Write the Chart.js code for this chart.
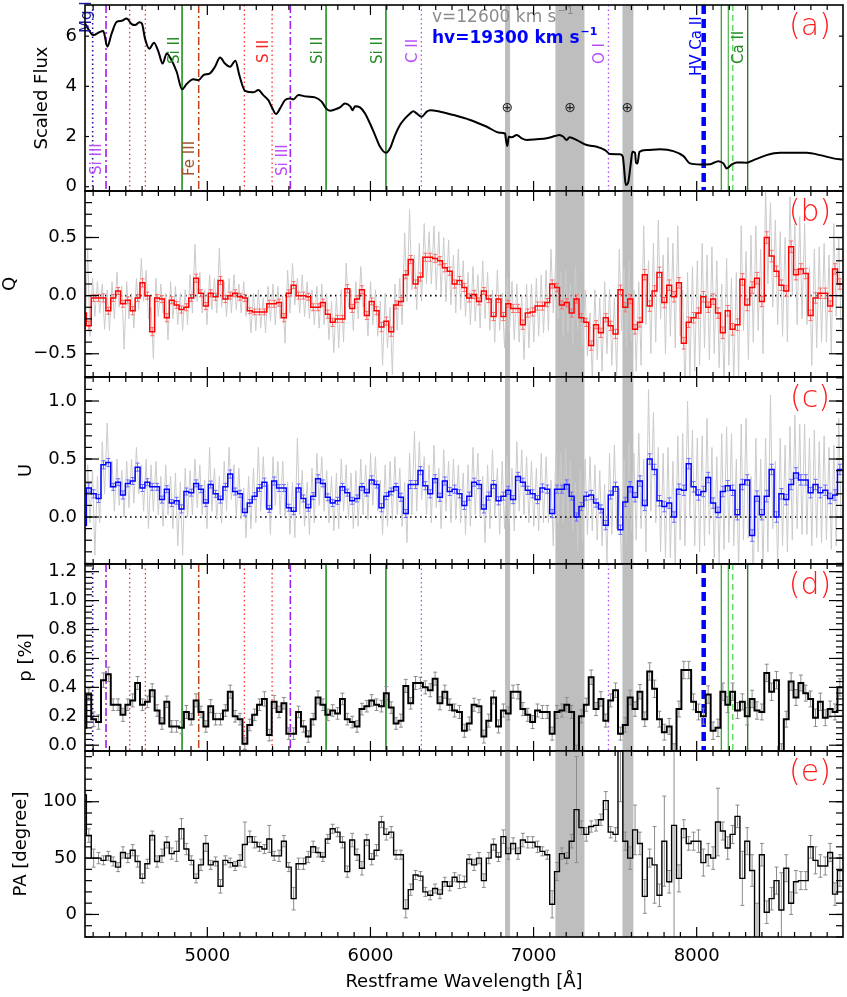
<!DOCTYPE html>
<html><head><meta charset="utf-8">
<script src="https://cdn.jsdelivr.net/npm/chart.js@4.4.0/dist/chart.umd.min.js"></script>
<style>
html,body{margin:0;padding:0;background:#fff;}
#wrap{position:relative;width:847px;height:997px;overflow:hidden;background:#fff;}
canvas{position:absolute;left:0;}
</style></head><body><div id="wrap">
<canvas id="ca" width="847" height="194" style="top:0px"></canvas>
<canvas id="cb" width="847" height="192" style="top:188px"></canvas>
<canvas id="cc" width="847" height="193" style="top:374px"></canvas>
<canvas id="cd" width="847" height="193" style="top:561px"></canvas>
<canvas id="ce" width="847" height="249" style="top:748px"></canvas>
</div>
<script>
// ---------------- DATA ----------------
const binStart = 4228.5;   // left edge of first (partial) bin, Angstrom
const binWidth = 29.9;     // bin width, Angstrom

const fluxWave = [4250,4256,4301,4342,4362,4387,4413,4444,4475,4505,4536,4557,4583,4599,4618,4644,4673,4700,4726,4751,4775,4812,4845,4873,4914,4947,4976,5016,5047,5078,5108,5139,5172,5196,5231,5282,5313,5343,5374,5394,5421,5446,5476,5507,5527,5558,5609,5660,5701,5728,5752,5783,5813,5844,5875,5891,5905,5936,5967,5997,6028,6059,6095,6120,6151,6181,6212,6243,6263,6283,6314,6345,6365,6427,6508,6611,6713,6794,6825,6831,6839,6848,6866,6897,6927,6958,7019,7081,7132,7158,7183,7203,7220,7265,7326,7387,7438,7469,7530,7547,7555,7565,7581,7596,7606,7622,7628,7637,7649,7694,7775,7857,7919,7959,8021,8082,8133,8164,8184,8215,8245,8307,8348,8429,8511,8593,8675,8756,8838,8897];
const fluxVal = [6.50,6.44,6.04,6.17,6.20,5.58,6.10,6.57,6.61,6.70,6.48,6.44,6.55,6.50,5.90,5.50,5.74,5.38,4.91,5.31,5.11,4.58,3.88,4.09,4.28,4.25,4.45,4.52,4.78,5.15,4.91,4.78,5.02,4.45,3.82,3.76,3.85,3.65,3.45,3.19,2.90,3.12,3.45,3.52,3.48,3.65,3.59,3.56,3.39,3.12,3.03,3.08,3.16,3.32,3.21,3.05,3.21,3.16,2.92,2.52,2.06,1.59,1.35,1.53,2.06,2.46,2.72,2.92,3.01,2.92,2.79,2.99,3.05,2.99,2.86,2.66,2.39,2.15,2.12,1.86,1.62,1.99,1.97,2.06,1.93,1.86,1.89,1.93,2.02,2.06,1.99,1.86,1.97,1.86,1.66,1.59,1.46,1.30,1.29,1.20,0.73,0.07,0.20,0.93,1.39,1.35,0.96,0.93,1.39,1.46,1.49,1.42,1.22,0.93,0.89,0.90,1.02,0.93,0.73,0.89,0.97,0.96,1.06,1.26,1.35,1.35,1.35,1.26,1.13,1.08];

const Qbin = [-0.15,
-0.26,-0.02,-0.02,-0.02,-0.13,-0.02,0.04,-0.07,-0.04,-0.13,
-0.02,0.11,0.00,-0.31,-0.02,-0.03,-0.19,-0.04,-0.08,-0.12,
-0.10,-0.02,0.15,0.02,-0.09,0.02,-0.01,0.13,-0.03,0.00,
0.02,-0.01,-0.02,-0.13,-0.14,-0.14,-0.14,-0.07,-0.07,-0.06,
-0.19,0.02,0.09,0.00,0.00,-0.01,-0.10,-0.10,-0.06,-0.16,
-0.23,-0.20,-0.20,0.06,-0.11,-0.03,0.05,-0.17,-0.05,-0.13,
-0.27,-0.22,-0.31,-0.08,-0.05,0.18,0.31,0.10,0.16,0.33,
0.33,0.32,0.30,0.24,0.21,0.10,0.13,0.07,-0.02,0.01,
-0.05,0.04,-0.03,-0.18,-0.03,-0.18,-0.07,-0.11,-0.11,-0.25,
-0.15,-0.14,-0.09,-0.09,-0.06,0.10,0.07,-0.08,-0.06,-0.15,
-0.03,-0.19,-0.23,-0.43,-0.25,-0.32,-0.19,-0.26,-0.33,0.05,
-0.10,-0.03,-0.29,-0.23,0.18,-0.09,0.04,0.20,-0.06,0.09,
-0.01,0.11,-0.41,-0.23,-0.19,-0.15,-0.01,-0.10,-0.03,-0.15,
-0.32,-0.13,-0.29,-0.25,0.14,-0.08,0.07,0.15,-0.05,0.50,
0.34,0.21,0.09,0.04,0.42,0.18,0.23,0.19,-0.17,-0.02,
0.02,0.02,-0.09,0.23,0.10];
const Qerr = [0.04,
0.04,0.03,0.03,0.035,0.03,0.03,0.03,0.03,0.03,0.035,
0.03,0.035,0.03,0.035,0.03,0.03,0.035,0.03,0.03,0.03,
0.03,0.03,0.035,0.03,0.03,0.03,0.03,0.035,0.03,0.03,
0.03,0.03,0.03,0.025,0.025,0.025,0.025,0.03,0.03,0.03,
0.035,0.03,0.03,0.03,0.03,0.03,0.03,0.03,0.03,0.035,
0.035,0.03,0.03,0.035,0.035,0.03,0.035,0.035,0.03,0.035,
0.04,0.035,0.04,0.035,0.035,0.035,0.035,0.035,0.035,0.035,
0.035,0.035,0.035,0.035,0.035,0.035,0.035,0.035,0.035,0.035,
0.03,0.03,0.03,0.035,0.03,0.035,0.03,0.035,0.035,0.04,
0.035,0.035,0.035,0.035,0.035,0.035,0.035,0.035,0.035,0.035,
0.035,0.035,0.035,0.04,0.035,0.04,0.035,0.04,0.04,0.04,
0.04,0.04,0.04,0.04,0.045,0.045,0.045,0.045,0.045,0.045,
0.045,0.045,0.05,0.045,0.045,0.045,0.045,0.045,0.045,0.045,
0.05,0.045,0.05,0.05,0.05,0.05,0.05,0.05,0.045,0.05,
0.05,0.045,0.045,0.045,0.05,0.045,0.045,0.045,0.045,0.045,
0.045,0.045,0.045,0.045,0.045];
// unbinned Q (two samples per bin)
const Qraw = [0.00,-0.35, 0.40,-0.35, 0.15,-0.18, 0.12,-0.15, 0.10,-0.29,
0.05,-0.30, 0.12,-0.20, 0.20,-0.10, 0.08,-0.46, 0.12,-0.20,
0.02,-0.28, 0.15,-0.12, 0.32,-0.05, 0.22,-0.20, -0.10,-0.54,
0.15,-0.18, 0.10,-0.15, 0.02,-0.38, 0.12,-0.20, 0.08,-0.25,
0.02,-0.30, 0.05,-0.25, 0.18,-0.15, 0.44,-0.05, 0.20,-0.15,
0.05,-0.25, 0.18,-0.12, 0.15,-0.15, 0.41,-0.10, 0.12,-0.18,
0.15,-0.15, 0.18,-0.12, 0.10,-0.15, 0.12,-0.18, 0.00,-0.32,
0.02,-0.30, 0.05,-0.28, -0.02,-0.32, 0.08,-0.22, 0.10,-0.25,
0.08,-0.20, 0.00,-0.41, 0.22,-0.15, 0.28,-0.08, 0.15,-0.15,
0.18,-0.18, 0.12,-0.20, 0.05,-0.25, 0.08,-0.28, 0.10,-0.25,
0.02,-0.38, -0.05,-0.49, 0.00,-0.45, 0.05,-0.40, 0.28,-0.10,
0.05,-0.30, 0.12,-0.20, 0.25,-0.10, 0.00,-0.35, 0.12,-0.25,
0.05,-0.35, -0.05,-0.60, 0.02,-0.45, -0.10,-0.68, 0.10,-0.30,
0.15,-0.25, 0.54,-0.05, 0.74,0.05, 0.35,-0.12, 0.45,-0.05,
0.62,0.10, 0.55,0.10, 0.60,0.05, 0.55,0.00, 0.50,-0.05,
0.48,-0.08, 0.35,-0.15, 0.40,-0.12, 0.30,-0.18, 0.20,-0.25,
0.25,-0.22, 0.18,-0.28, 0.30,-0.20, 0.20,-0.30, 0.05,-0.40,
0.22,-0.30, 0.02,-0.45, 0.15,-0.32, 0.12,-0.38, 0.10,-0.40,
0.00,-0.55, 0.10,-0.45, 0.10,-0.40, 0.15,-0.35, 0.18,-0.32,
0.22,-0.30, 0.40,-0.15, 0.35,-0.20, 0.20,-0.35, 0.22,-0.32,
0.10,-0.42, 0.25,-0.30, 0.05,-0.45, 0.05,-0.52, -0.15,-0.72,
0.05,-0.55, -0.02,-0.65, 0.12,-0.50, 0.05,-0.60, -0.02,-0.70,
0.40,-0.30, 0.25,-0.45, 0.30,-0.40, 0.05,-0.65, 0.12,-0.60,
0.60,-0.25, 0.30,-0.50, 0.45,-0.40, 0.65,-0.20, 0.35,-0.50,
0.50,-0.35, 0.45,-0.45, 0.60,-0.35, 0.05,-0.85, 0.20,-0.70,
0.25,-0.65, 0.30,-0.60, 0.45,-0.45, 0.35,-0.55, 0.42,-0.50,
0.30,-0.62, 0.10,-0.80, 0.32,-0.60, 0.15,-0.75, 0.20,-0.70,
0.60,-0.30, 0.38,-0.55, 0.52,-0.40, 0.60,-0.30, 0.40,-0.50,
0.92,0.10, 0.80,-0.10, 0.65,-0.25, 0.55,-0.35, 0.50,-0.40,
0.85,0.00, 0.62,-0.25, 0.68,-0.20, 0.62,-0.25, 0.25,-0.60,
0.40,-0.45, 0.42,-0.40, 0.45,-0.40, 0.35,-0.50, 0.62,-0.18,
0.50,-0.28];

const Ubin = [-0.07,
0.25,0.20,0.16,0.45,0.47,0.26,0.30,0.19,0.29,0.31,
0.43,0.25,0.30,0.26,0.26,0.15,0.24,0.12,0.14,0.07,
0.22,0.21,0.29,0.24,0.12,0.28,0.20,0.15,0.26,0.37,
0.22,0.20,0.04,0.12,0.18,0.25,0.30,0.07,0.31,0.25,
0.25,0.08,0.05,0.25,0.16,0.08,0.18,0.33,0.29,0.17,
0.12,0.14,0.26,0.21,0.14,0.16,0.26,0.21,0.32,0.28,
0.08,0.18,0.22,0.26,0.17,0.03,0.28,0.28,0.40,0.27,
0.20,0.33,0.17,0.31,0.22,0.24,0.20,0.10,0.18,0.30,
0.28,0.07,0.18,0.28,0.14,0.18,0.23,0.15,0.35,0.30,
0.23,0.20,0.15,0.25,0.24,0.03,0.24,0.24,0.28,0.18,
0.00,0.09,0.18,0.19,0.12,0.07,-0.07,0.19,0.26,-0.11,
0.13,0.26,0.17,0.31,0.10,0.50,0.41,0.14,0.09,0.12,
0.00,0.24,0.23,0.46,0.26,0.19,0.22,0.34,0.12,0.04,
0.22,0.27,0.23,0.02,0.28,0.32,-0.16,0.18,0.02,0.18,
0.41,0.00,0.20,0.15,0.28,0.38,0.32,0.32,0.21,0.28,
0.21,0.23,0.16,0.19,0.41];
const Uerr = [0.04,
0.04,0.035,0.035,0.035,0.035,0.03,0.03,0.035,0.03,0.03,
0.035,0.03,0.03,0.03,0.03,0.03,0.03,0.03,0.03,0.035,
0.03,0.03,0.03,0.03,0.03,0.03,0.03,0.03,0.03,0.035,
0.03,0.03,0.03,0.03,0.03,0.03,0.035,0.03,0.035,0.03,
0.03,0.03,0.03,0.035,0.03,0.03,0.03,0.035,0.03,0.03,
0.03,0.03,0.03,0.03,0.03,0.03,0.03,0.03,0.035,0.03,
0.035,0.03,0.03,0.03,0.035,0.035,0.035,0.035,0.035,0.035,
0.035,0.035,0.035,0.035,0.035,0.035,0.035,0.035,0.035,0.035,
0.035,0.035,0.035,0.035,0.035,0.035,0.035,0.035,0.035,0.035,
0.035,0.035,0.035,0.035,0.035,0.035,0.035,0.035,0.04,0.035,
0.035,0.035,0.035,0.04,0.035,0.035,0.04,0.035,0.04,0.04,
0.04,0.045,0.04,0.045,0.045,0.045,0.045,0.045,0.045,0.045,
0.045,0.045,0.045,0.045,0.045,0.045,0.045,0.045,0.045,0.045,
0.045,0.045,0.045,0.045,0.045,0.045,0.05,0.045,0.045,0.05,
0.045,0.045,0.045,0.045,0.045,0.045,0.045,0.045,0.045,0.045,
0.045,0.045,0.045,0.045,0.045];
const Uraw = [0.10,-0.25, 0.45,-0.05, 0.40,-0.33, 0.35,-0.05, 0.65,0.20,
0.81,0.25, 0.48,0.05, 0.50,0.10, 0.40,0.00, 0.48,0.08,
0.50,0.12, 0.60,0.20, 0.45,0.05, 0.50,-0.10, 0.45,0.05,
0.48,0.02, 0.35,-0.08, 0.45,0.02, 0.35,-0.10, 0.38,-0.25,
0.30,-0.33, 0.42,0.00, 0.40,0.02, 0.50,0.08, 0.45,0.02,
0.32,-0.10, 0.60,0.05, 0.42,-0.02, 0.35,-0.05, 0.48,0.05,
0.60,0.15, 0.45,0.00, 0.42,-0.02, 0.25,-0.18, 0.35,-0.10,
0.42,-0.05, 0.60,0.05, 0.52,0.08, 0.28,-0.15, 0.52,0.10,
0.48,0.02, 0.48,0.00, 0.30,-0.15, 0.30,-0.18, 0.68,0.02,
0.40,-0.08, 0.30,-0.15, 0.42,-0.05, 0.55,0.10, 0.52,0.05,
0.40,-0.05, 0.35,-0.12, 0.38,-0.10, 0.50,0.05, 0.45,-0.02,
0.38,-0.10, 0.40,-0.08, 0.50,0.02, 0.45,-0.02, 0.55,0.10,
0.52,0.05, 0.32,-0.15, 0.45,-0.08, 0.48,-0.02, 0.52,0.02,
0.42,-0.08, 0.30,-0.22, 0.55,0.02, 0.74,0.05, 0.65,0.15,
0.52,0.02, 0.45,-0.05, 0.62,0.08, 0.42,-0.10, 0.58,0.05,
0.48,-0.05, 0.50,-0.02, 0.45,-0.05, 0.38,-0.15, 0.45,-0.08,
0.60,0.02, 0.55,0.00, 0.35,-0.22, 0.45,-0.10, 0.58,0.00,
0.42,-0.15, 0.48,-0.10, 0.52,-0.05, 0.42,-0.12, 0.65,0.05,
0.58,0.02, 0.52,-0.05, 0.48,-0.08, 0.42,-0.12, 0.55,-0.05,
0.52,-0.05, 0.32,-0.25, 0.55,-0.05, 0.55,-0.05, 0.60,0.00,
0.48,-0.12, 0.30,-0.30, 0.40,-0.22, 0.50,-0.15, 0.52,-0.12,
0.45,-0.20, 0.40,-0.25, 0.28,-0.40, 0.55,-0.15, 0.62,-0.10,
0.25,-0.45, 0.50,-0.22, 0.65,-0.12, 0.55,-0.20, 0.72,-0.10,
0.50,-0.30, 1.10,0.05, 0.90,-0.05, 0.60,-0.30, 0.55,-0.35,
0.60,-0.35, 0.48,-0.45, 0.70,-0.20, 0.72,-0.25, 1.00,0.00,
0.75,-0.25, 0.68,-0.30, 0.70,-0.25, 0.85,-0.15, 0.60,-0.35,
0.52,-0.42, 0.72,-0.28, 0.78,-0.22, 0.72,-0.25, 0.50,-0.45,
0.80,-0.20, 0.85,-0.18, 0.35,-0.60, 0.68,-0.30, 0.50,-0.45,
0.68,-0.30, 1.05,-0.10, 0.48,-0.45, 0.68,-0.25, 0.62,-0.30,
0.78,-0.20, 0.88,-0.10, 0.80,-0.15, 0.80,-0.15, 0.68,-0.25,
0.75,-0.18, 0.65,-0.22, 0.70,-0.20, 0.60,-0.28, 0.62,-0.25,
0.85,0.00];

const Pbin = [0.12,
0.35,0.18,0.16,0.45,0.49,0.28,0.28,0.21,0.28,0.31,
0.43,0.28,0.30,0.38,0.24,0.15,0.30,0.13,0.13,0.12,
0.23,0.18,0.31,0.23,0.13,0.27,0.18,0.18,0.24,0.37,
0.20,0.18,0.01,0.14,0.21,0.28,0.32,0.07,0.30,0.23,
0.29,0.08,0.08,0.23,0.13,0.06,0.18,0.33,0.28,0.21,
0.24,0.22,0.32,0.18,0.16,0.13,0.25,0.27,0.31,0.28,
0.27,0.36,0.26,0.15,0.17,0.41,0.29,0.43,0.43,0.40,
0.38,0.46,0.29,0.37,0.28,0.24,0.23,0.10,0.15,0.28,
0.27,0.06,0.17,0.33,0.13,0.24,0.22,0.37,0.37,0.25,
0.21,0.16,0.24,0.23,0.23,0.08,0.23,0.24,0.28,0.23,
-0.05,0.20,0.28,0.47,0.25,0.32,0.17,0.31,0.38,0.08,
0.14,0.33,0.25,0.37,0.18,0.51,0.39,0.18,0.09,0.13,
-0.05,0.25,0.52,0.52,0.30,0.23,0.20,0.35,0.10,0.12,
0.37,0.28,0.37,0.24,0.30,0.20,0.32,0.24,0.23,0.50,
0.37,0.45,-0.05,0.18,0.44,0.33,0.43,0.36,0.32,0.19,
0.30,0.19,0.25,0.23,0.40];
const Perr = [0.05,
0.04,0.05,0.05,0.05,0.05,0.04,0.04,0.045,0.04,0.045,
0.045,0.04,0.04,0.045,0.04,0.04,0.04,0.04,0.04,0.04,
0.045,0.04,0.045,0.04,0.04,0.045,0.04,0.04,0.04,0.045,
0.04,0.04,0.04,0.04,0.04,0.04,0.05,0.04,0.045,0.04,
0.04,0.04,0.04,0.04,0.04,0.04,0.04,0.045,0.04,0.04,
0.04,0.04,0.04,0.04,0.04,0.04,0.04,0.04,0.04,0.04,
0.04,0.045,0.04,0.04,0.045,0.045,0.04,0.045,0.04,0.045,
0.045,0.045,0.045,0.045,0.04,0.045,0.045,0.045,0.045,0.045,
0.045,0.045,0.045,0.045,0.045,0.045,0.045,0.045,0.05,0.045,
0.045,0.045,0.045,0.045,0.045,0.045,0.045,0.045,0.05,0.045,
0.05,0.045,0.045,0.05,0.045,0.05,0.045,0.045,0.05,0.045,
0.05,0.05,0.05,0.05,0.05,0.06,0.06,0.055,0.055,0.055,
0.06,0.055,0.06,0.06,0.055,0.055,0.055,0.06,0.06,0.06,
0.06,0.055,0.06,0.055,0.055,0.06,0.06,0.06,0.055,0.06,
0.06,0.06,0.06,0.055,0.06,0.055,0.055,0.055,0.055,0.06,
0.06,0.055,0.055,0.055,0.06];

const PAbin = [106,
70,50,50,48,52,47,42,55,50,57,
47,32,45,70,47,52,64,54,56,76,
58,48,32,44,63,44,47,25,48,46,
43,48,62,69,64,60,58,67,52,52,
65,42,14,45,45,51,60,55,51,67,
76,73,64,38,66,53,41,66,49,57,
82,71,73,53,53,5,22,35,34,20,
17,23,18,29,25,33,29,29,49,44,
50,30,50,62,51,69,54,63,54,66,
64,64,60,56,53,9,38,54,50,65,
93,77,71,78,79,84,101,73,71,160,
65,50,75,63,16,50,44,17,65,29,
79,32,76,63,65,65,46,53,50,82,
74,59,71,87,32,65,39,-30,53,2,
14,30,4,41,10,29,30,30,60,48,
43,43,55,18,39];
const PAerr = [40,
6,8,5,4,4,4,4,5,4,5,
5,4,4,4,5,6,5,5,9,9,
5,4,4,5,7,4,4,6,4,4,
4,5,20,5,5,4,4,12,4,5,
5,4,10,5,5,5,5,4,4,4,
4,4,5,5,6,5,6,5,5,5,
5,5,5,4,4,8,5,4,4,4,
4,4,4,4,4,4,6,5,4,5,
5,6,5,5,4,6,5,5,5,6,
5,5,5,4,4,12,8,5,5,6,
47,6,6,5,5,5,8,5,6,60,
8,10,22,10,15,8,34,10,40,10,
150,12,8,6,8,10,12,10,10,30,
8,10,8,10,24,12,14,40,10,10,
10,12,33,12,10,10,8,8,10,12,
10,8,8,10,14];

const telluricBands = [[6825,6856],[7134,7312],[7545,7612]];
const telluricMarkWave = [6839,7224,7575];
const telluricMarkFlux = 3.12;

const idLineWave = [4297,4379,4524,4620,4845,4947,5227,5397,5509,5728,6095,6312,7459,8043,8151,8194,8221,8313];
const idLineIon  = ['Mg II','Si III','S II','S II','Si II','Fe III','S II','S II','Si III','Si II','Si II','C II','O I','HV Ca II','Ca II','Ca II','Ca II','Ca II'];

const xTickLabels = [5000,6000,7000,8000];
const fluxTicks = [0,2,4,6];
const qTicks = [-0.5,0.0,0.5];
const uTicks = [0.0,0.5,1.0];
const pTicks = [0.0,0.2,0.4,0.6,0.8,1.0,1.2];
const paTicks = [0,50,100];

const velText = 'v=12600 km s';
const hvText = 'hv=19300 km s';

// ---------------- RENDERING ----------------
const FONT = '"DejaVu Sans", sans-serif';
const X_MIN = 4250, X_MAX = 8897;

const stepPoints = vals => {
  const pts = vals.map((v,k)=>({x: binStart + binWidth*k, y: v}));
  pts.push({x: binStart + binWidth*vals.length, y: vals[vals.length-1]});
  return pts;
};
const rawPoints = vals => vals.map((v,i)=>({x: binStart + binWidth*Math.floor(i/2) + (i%2 ? 22 : 8), y: v}));

const lineStyle = i => {
  const ion = idLineIon[i];
  if (i === 14) return {c:'#3c9a3c', w:1.3, d:[]};
  if (i === 15) return {c:'#5cbc5c', w:1.3, d:[]};
  if (i === 16) return {c:'#66dd66', w:1.6, d:[6,4]};
  if (i === 17) return {c:'#0f6a0f', w:1.2, d:[]};
  return ({
    'Mg II':{c:'#1a1aa0', w:1.6, d:[1.5,3]},
    'Si III':{c:'#a020f0', w:1.6, d:[8,3,2,3]},
    'S II':{c:'#ff3030', w:1.3, d:[1.5,3]},
    'Si II':{c:'#228b22', w:1.6, d:[]},
    'Fe III':{c:'#b8461a', w:1.5, d:[8,3,2,3]},
    'C II':{c:'#b84cff', w:1.3, d:[1.5,3]},
    'O I':{c:'#b84cff', w:1.3, d:[1.5,3]},
    'HV Ca II':{c:'#0000ff', w:4.5, d:[9,5]}
  })[ion];
};
const idLabels = [
  {i:0, text:'Mg II', color:'#1a1aa0', dx:-6, yb:33},
  {i:1, text:'Si III', color:'#b84cff', dx:-9, yb:175},
  {i:4, text:'Si II', color:'#228b22', dx:-7, yb:64},
  {i:5, text:'Fe III', color:'#a0522d', dx:-9, yb:176},
  {i:7, text:'S II', color:'#ff2020', dx:-8, yb:63},
  {i:8, text:'Si III', color:'#b84cff', dx:-7, yb:176},
  {i:9, text:'Si II', color:'#228b22', dx:-8, yb:64},
  {i:10, text:'Si II', color:'#228b22', dx:-8, yb:64},
  {i:11, text:'C II', color:'#b84cff', dx:-8, yb:63},
  {i:12, text:'O I', color:'#b84cff', dx:-8, yb:64},
  {i:13, text:'HV Ca II', color:'#0000ff', dx:-7, yb:76},
  {i:16, text:'Ca II', color:'#228b22', dx:6, yb:64}
];

function seg(ctx,x1,y1,x2,y2){ctx.beginPath();ctx.moveTo(x1,y1);ctx.lineTo(x2,y2);ctx.stroke();}

const panelPlugin = {
  id: 'panel',
  beforeDatasetsDraw(chart, args, o) {
    const {ctx, chartArea:a} = chart; const x = chart.scales.x, y = chart.scales.y;
    ctx.save();
    ctx.beginPath(); ctx.rect(a.left, a.top, a.right-a.left, a.bottom-a.top); ctx.clip();
    ctx.fillStyle = '#bebebe';
    telluricBands.forEach(([l,r]) => { const x1 = x.getPixelForValue(l), x2 = x.getPixelForValue(r); ctx.fillRect(x1, a.top, x2-x1, a.bottom-a.top); });
    if (o.idLines) {
      idLineWave.forEach((w,i) => { const s = lineStyle(i); const px = x.getPixelForValue(w);
        ctx.strokeStyle = s.c; ctx.lineWidth = s.w; ctx.setLineDash(s.d); seg(ctx, px, a.top, px, a.bottom); });
      ctx.setLineDash([]);
    }
    if (o.zero) { const py = y.getPixelForValue(0); ctx.strokeStyle='#000'; ctx.lineWidth=1.6; ctx.setLineDash([1.6,3.4]); seg(ctx,a.left,py,a.right,py); ctx.setLineDash([]); }
    ctx.restore();
  },
  beforeDatasetDraw(chart, args, o) {
    if (args.index !== 0 || !o.err) return;
    const {ctx, chartArea:a} = chart; const x = chart.scales.x, y = chart.scales.y;
    ctx.save();
    ctx.beginPath(); ctx.rect(a.left, a.top, a.right-a.left, a.bottom-a.top); ctx.clip();
    ctx.strokeStyle = o.err.color; ctx.lineWidth = 1;
    o.err.vals.forEach((v,k) => {
      const px = x.getPixelForValue(binStart + binWidth*(k+0.5));
      const y1 = y.getPixelForValue(v - o.err.errs[k]), y2 = y.getPixelForValue(v + o.err.errs[k]);
      seg(ctx, px, y1, px, y2); seg(ctx, px-2, y1, px+2, y1); seg(ctx, px-2, y2, px+2, y2);
    });
    ctx.restore();
  },
  afterDatasetsDraw(chart, args, o) {
    if (!o.annot) return;
    const {ctx, chartArea:a} = chart; const x = chart.scales.x, y = chart.scales.y;
    ctx.save();
    ctx.font = `15px ${FONT}`; ctx.textBaseline = 'middle'; ctx.textAlign = 'left';
    idLabels.forEach(L => {
      const px = x.getPixelForValue(idLineWave[L.i]) + L.dx;
      ctx.save(); ctx.translate(px, L.yb); ctx.rotate(-Math.PI/2); ctx.fillStyle = L.color; ctx.fillText(L.text, 0, 0); ctx.restore();
    });
    ctx.font = `14px ${FONT}`; ctx.textAlign = 'center'; ctx.fillStyle = '#222';
    telluricMarkWave.forEach(w => ctx.fillText('\u2295', x.getPixelForValue(w), y.getPixelForValue(telluricMarkFlux)));
    ctx.textAlign = 'left';
    const sup = (txt, col, weight, yy) => {
      ctx.font = `${weight} 17px ${FONT}`; ctx.fillStyle = col; ctx.fillText(txt, 432, yy);
      const w = ctx.measureText(txt).width;
      ctx.font = `${weight} 11px ${FONT}`; ctx.fillText('\u22121', 432 + w + 1, yy - 7);
    };
    sup(velText, '#8c8c8c', 'normal', a.top + 13);
    sup(hvText, '#0000ff', 'bold', a.top + 34);
    ctx.restore();
  },
  afterDraw(chart, args, o) {
    const {ctx, chartArea:a} = chart; const x = chart.scales.x, y = chart.scales.y;
    ctx.save();
    ctx.strokeStyle = '#000'; ctx.lineWidth = 1.2;
    for (let w = 4300; w <= 8800; w += 100) {
      const px = x.getPixelForValue(w); const len = (w % 1000 === 0) ? 10 : 5;
      seg(ctx, px, a.bottom, px, a.bottom - len); seg(ctx, px, a.top, px, a.top + len);
    }
    o.yMajor.forEach(v => { const py = y.getPixelForValue(v); seg(ctx,a.left,py,a.left+o.majLen,py); seg(ctx,a.right,py,a.right-o.majLen,py); });
    if (o.minorStep) {
      const n0 = Math.ceil(y.min / o.minorStep - 1e-6), n1 = Math.floor(y.max / o.minorStep + 1e-6);
      for (let n = n0; n <= n1; n++) { const v = n * o.minorStep; const py = y.getPixelForValue(v);
        seg(ctx,a.left,py,a.left+7,py); seg(ctx,a.right,py,a.right-7,py); }
    }
    ctx.lineWidth = 1.6; ctx.strokeRect(a.left, a.top, a.right-a.left, a.bottom-a.top);
    ctx.font = `300 30px ${FONT}`; ctx.fillStyle = '#ff1a1a'; ctx.textAlign = 'center'; ctx.textBaseline = 'middle';
    ctx.fillText(o.letter, 810, a.top + 22);
    ctx.restore();
  }
};

Chart.defaults.font.family = FONT;
Chart.defaults.color = '#000';

function makePanel(id, s) {
  return new Chart(document.getElementById(id), {
    type: 'line',
    data: { datasets: s.datasets },
    options: {
      responsive: false, animation: false, devicePixelRatio: 1,
      layout: { padding: { left: 0, right: 4, top: s.padTop, bottom: s.padBottom } },
      elements: { point: { radius: 0 }, line: { tension: 0 } },
      plugins: { legend: {display:false}, tooltip: {enabled:false}, panel: s.panel },
      scales: {
        x: { type:'linear', min:X_MIN, max:X_MAX, display: !!s.showX,
          afterFit: sc => { if (s.showX) sc.height = 60; sc.paddingLeft = 0; sc.paddingRight = 0; },
          afterBuildTicks: sc => { sc.ticks = xTickLabels.map(v => ({value:v})); },
          grid: {display:false, drawTicks:false}, border: {display:false},
          ticks: { font:{size:18, family:FONT}, color:'#000', padding:9, maxRotation:0, autoSkip:false, callback: v => String(v) },
          title: { display: !!s.showX, text:'Restframe Wavelength [Å]', font:{size:18, family:FONT}, color:'#000', padding:{top:0, bottom:4} } },
        y: { type:'linear', min:s.yMin, max:s.yMax,
          afterFit: sc => { sc.width = 85; sc.paddingTop = 0; sc.paddingBottom = 0; },
          afterBuildTicks: sc => { sc.ticks = s.yTicks.map(v => ({value:v})); },
          grid: {display:false, drawTicks:false}, border: {display:false},
          ticks: { font:{size:18, family:FONT}, color:'#000', padding:8, autoSkip:false, callback: s.fmt },
          title: { display:true, text:s.yTitle, font:{size:18, family:FONT}, color:'#000', padding:{top:s.titlePad, bottom:0} } }
      }
    },
    plugins: [panelPlugin]
  });
}

const f0 = v => String(Math.round(v));
const f1 = v => (v < -1e-9 ? '\u2212' : '') + Math.abs(Number(v)).toFixed(1);

makePanel('ca', {
  padTop:5, padBottom:3, yMin:-0.17, yMax:7.24, yTicks:fluxTicks, fmt:f0, yTitle:'Scaled Flux', titlePad:32,
  datasets:[{ data: fluxWave.map((w,i)=>({x:w, y:fluxVal[i]})), borderColor:'#000', borderWidth:2, cubicInterpolationMode:'monotone', pointRadius:0 }],
  panel:{ idLines:true, annot:true, yMajor:fluxTicks, majLen:4, minorStep:0, letter:'(a)' }
});
makePanel('cb', {
  padTop:3, padBottom:3, yMin:-0.70, yMax:0.90, yTicks:qTicks, fmt:f1, yTitle:'Q', titlePad:0,
  datasets:[
    { data: stepPoints(Qbin), borderColor:'#ff0000', borderWidth:1.5, stepped:true, pointRadius:0 },
    { data: rawPoints(Qraw), borderColor:'#cbcbcb', borderWidth:1, pointRadius:0 }],
  panel:{ zero:true, err:{vals:Qbin, errs:Qerr, color:'#ff6a6a'}, yMajor:qTicks, majLen:14, minorStep:0.1, letter:'(b)' }
});
makePanel('cc', {
  padTop:3, padBottom:3, yMin:-0.405, yMax:1.207, yTicks:uTicks, fmt:f1, yTitle:'U', titlePad:16,
  datasets:[
    { data: stepPoints(Ubin), borderColor:'#0000ff', borderWidth:1.5, stepped:true, pointRadius:0 },
    { data: rawPoints(Uraw), borderColor:'#cbcbcb', borderWidth:1, pointRadius:0 }],
  panel:{ zero:true, err:{vals:Ubin, errs:Uerr, color:'#6a6aff'}, yMajor:uTicks, majLen:14, minorStep:0.1, letter:'(c)' }
});
makePanel('cd', {
  padTop:3, padBottom:3, yMin:-0.04, yMax:1.253, yTicks:pTicks, fmt:f1, yTitle:'p [%]', titlePad:16,
  datasets:[{ data: stepPoints(Pbin), borderColor:'#000', borderWidth:2, stepped:true, pointRadius:0 }],
  panel:{ idLines:true, err:{vals:Pbin, errs:Perr, color:'#8c8c8c'}, yMajor:pTicks, majLen:14, minorStep:0.04, letter:'(d)' }
});
makePanel('ce', {
  padTop:3, padBottom:0, yMin:-20, yMax:145, yTicks:paTicks, fmt:f0, yTitle:'PA [degree]', titlePad:11, showX:true,
  datasets:[{ data: stepPoints(PAbin), borderColor:'#000', borderWidth:1.4, stepped:true, pointRadius:0 }],
  panel:{ err:{vals:PAbin, errs:PAerr, color:'#8c8c8c'}, yMajor:paTicks, majLen:14, minorStep:10, letter:'(e)' }
});
</script>
</body></html>
